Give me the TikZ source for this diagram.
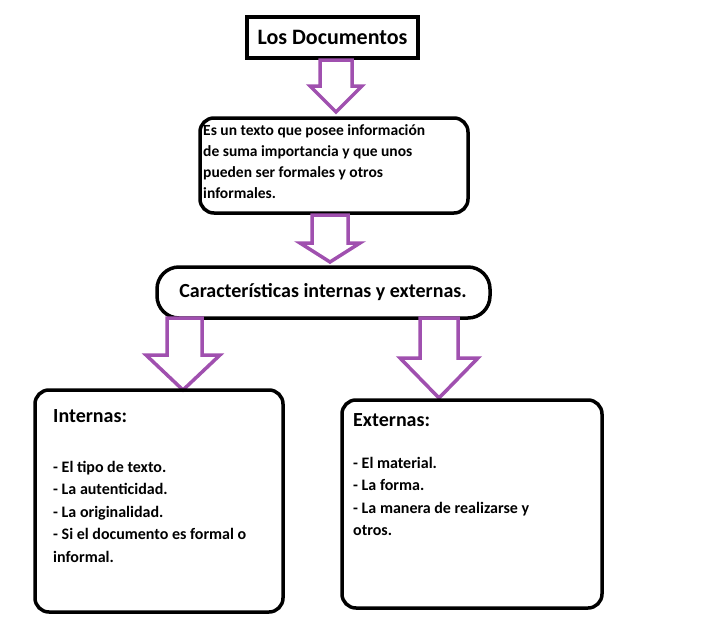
\documentclass[tikz,border=0pt]{standalone}
\usepackage{fontspec}
\setmainfont{Carlito}
\begin{document}
\begin{tikzpicture}[x=1pt,y=-1pt,
  box/.style={draw=black,line width=3.5pt,rounded corners=14pt},
  arr/.style={draw=arrowpurple,line width=3.5pt,fill=white,line join=miter},
  txt/.style={anchor=north west,align=left,font=\bfseries,inner sep=0pt}]
\definecolor{arrowpurple}{RGB}{160,80,175}
\useasboundingbox[fill=white] (0,0) rectangle (712,624);
% title
\node[draw,line width=3.5pt,minimum width=171pt,minimum height=41pt,font=\bfseries\fontsize{22}{26}\selectfont] (t) at (332.5,37.5) {Los Documentos};
% arrow 1
\draw[arr] (320,60)--(352,60)--(352,86)--(362,86)--(336,112)--(310,86)--(320,86)--cycle;
% box 2
\draw[box] (200,118) rectangle (468,213);
\node[txt,font=\bfseries\fontsize{15.5}{21}\selectfont] (d) at (203,124) {Es un texto que posee información\\de suma importancia y que unos\\pueden ser formales y otros\\informales.};
% arrow 2
\draw[arr] (312,215)--(348,215)--(348,243)--(360,243)--(330,262)--(300,243)--(312,243)--cycle;
% box 3
\draw[box,rounded corners=22pt] (157,267) rectangle (490,318);
\node[font=\bfseries\fontsize{20}{24}\selectfont] (c) at (323,292) {Características internas y externas.};
% arrow 3
\draw[arr] (167,318)--(202,318)--(202,355)--(220,355)--(183,390)--(146,355)--(167,355)--cycle;
% arrow 4
\draw[arr] (420,318)--(458,318)--(458,358)--(478,358)--(439,398)--(400,358)--(420,358)--cycle;
% box 4
\draw[box] (35,390) rectangle (283,612);
\node[txt,font=\bfseries\fontsize{20}{24}\selectfont] (i) at (53,409) {Internas:};
\node[txt,font=\bfseries\fontsize{16}{22.5}\selectfont] (il) at (53,461) {- El tipo de texto.\\- La autenticidad.\\- La originalidad.\\- Si el documento es formal o\\informal.};
% box 5
\draw[box] (342,400) rectangle (602,608);
\node[txt,font=\bfseries\fontsize{20}{24}\selectfont] (e) at (353,413) {Externas:};
\node[txt,font=\bfseries\fontsize{16}{22.5}\selectfont] (el) at (353,457) {- El material.\\- La forma.\\- La manera de realizarse y\\otros.};
\end{tikzpicture}
\end{document}
